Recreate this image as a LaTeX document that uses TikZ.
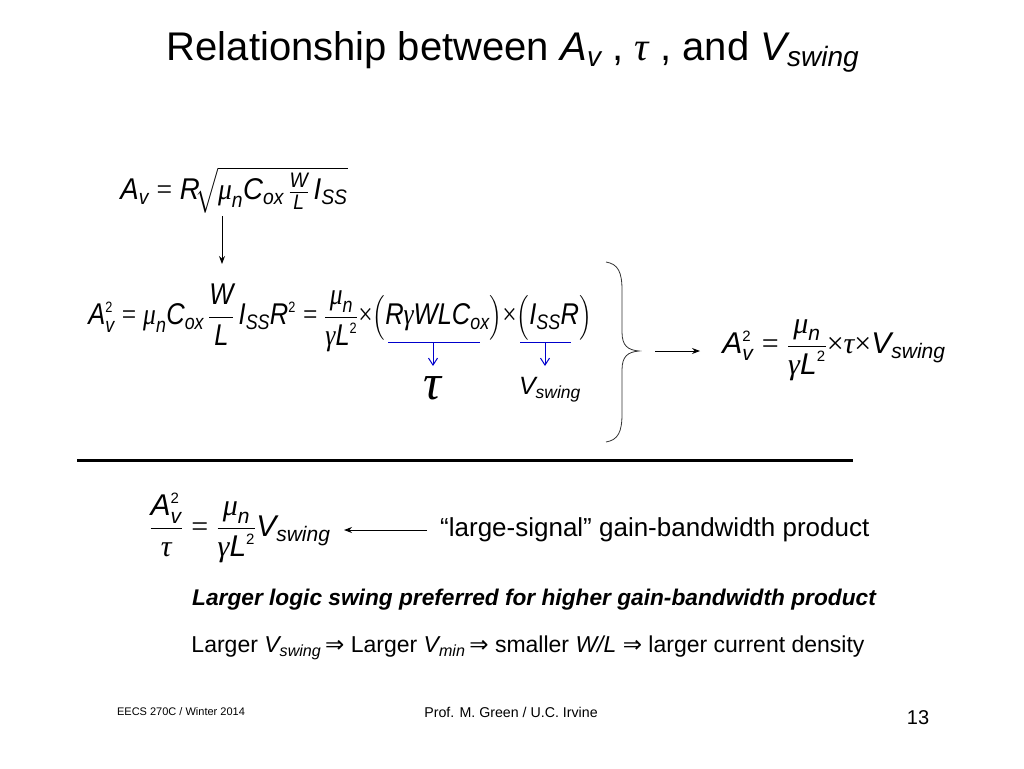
\RequirePackage{fix-cm}
\documentclass[tikz,border=0pt]{standalone}
\usepackage{amsmath}
\usepackage{graphicx}
\usepackage{fontspec}
\setmainfont{Liberation Sans}
\newfontfamily\grk{Liberation Serif}
\newfontfamily\dvs{DejaVu Sans}
\usetikzlibrary{arrows.meta}
\newcommand\gmu{\text{\grk\itshape μ}}
\newcommand\gga{\text{\grk\itshape γ}}
\newcommand\gtau{\text{\grk\itshape τ}}
\newcommand\vi[1]{\text{\itshape #1}}
\newcommand\two{{\scriptscriptstyle\text{2}}}
\newcommand\myeq{\mathrel{\text{\grk =}}}
\newcommand\mytimes{\mathbin{\text{\grk ×}}}
\newcommand\myimp{\text{\dvs ⇒}}
\tikzset{
  eq/.style={inner sep=0pt, font=\fontsize{30}{34}\selectfont},
  txt/.style={inner sep=0pt, font=\fontsize{21}{24}\selectfont},
  conn/.style={-{Stealth[length=8pt,width=6pt]}, line width=1pt},
  bconn/.style={-{Straight Barb[length=7pt,width=9pt]}, line width=1pt, blue!80!black},
}
\begin{document}
\begin{tikzpicture}[x=1pt,y=-1pt]
\useasboundingbox (0,0) rectangle (1024,768);
% title
\node[inner sep=0pt, font=\fontsize{40}{44}\selectfont] (title) at (513,52)
  {Relationship between $\vi{A}_{\vi{v}}$ , $\gtau$ , and $\vi{V}_{\vi{swing}}$};
% eq1
\node[eq] (eq1) at (234,190)
  {\scalebox{0.92}[1]{$\vi{A}_{\vi{v}} \myeq \vi{R}\!\sqrt{\gmu_{\vi{n}}\vi{C}_{\vi{ox}}\,\tfrac{\vi{W}}{\vi{L}}\,\vi{I}_{\vi{SS}}}$}};
\coordinate (a1s) at (222,216);
\coordinate (a1e) at (222,264);
\draw[conn] (a1s) -- (a1e);
% eq2
\node[eq] (eq2) at (340,318)
  {\scalebox{0.85}[1]{$\vi{A}_{\vi{v}}^{\two} \myeq \gmu_{\vi{n}}\vi{C}_{\vi{ox}}\,\dfrac{\vi{W}}{\vi{L}}\,\vi{I}_{\vi{SS}}\vi{R}^{\two} \myeq \dfrac{\gmu_{\vi{n}}}{\gga\vi{L}^{\two}}{\mytimes}\bigl(\vi{R}\gga\vi{WLC}_{\vi{ox}}\bigr){\mytimes}\bigl(\vi{I}_{\vi{SS}}\vi{R}\bigr)$}};
\coordinate (bl1a) at (388,342);
\coordinate (bl1b) at (480,342);
\coordinate (bl2a) at (520,342);
\coordinate (bl2b) at (571,342);
\coordinate (ba1) at (433,342);
\coordinate (ba2) at (545,342);
\draw[blue!80!black, line width=1pt] (bl1a) -- (bl1b);
\draw[blue!80!black, line width=1pt] (bl2a) -- (bl2b);
\node[inner sep=0pt, font=\fontsize{50}{52}\selectfont] (tau) at (432,388) {$\gtau$};
\node[txt, font=\fontsize{25}{27}\selectfont] (vsw) at (550,390) {$\vi{V}_{\vi{swing}}$};
\coordinate (ta) at (433,366);
\coordinate (va) at (545,366);
\draw[bconn] (ba1) -- (ta);
\draw[bconn] (ba2) -- (va);
% brace
\draw[line width=0.8pt, black!80] (606,262) .. controls (618,264) and (622,272) .. (622,290)
  -- (622,332) .. controls (622,346) and (628,350) .. (639,351)
  .. controls (628,352) and (622,356) .. (622,370)
  -- (622,414) .. controls (622,432) and (618,440) .. (606,442);
\coordinate (br) at (655,351);
\coordinate (br2) at (700,351);
% eq3
\node[eq] (eq3) at (834,350)
  {$\vi{A}_{\vi{v}}^{\two} \myeq \dfrac{\gmu_{\vi{n}}}{\gga\vi{L}^{\two}}{\mytimes}\gtau{\mytimes}\vi{V}_{\vi{swing}}$};
\draw[conn] (br) -- (br2);
% rule
\coordinate (r1) at (77,460);
\coordinate (r2) at (853,460);
\draw[line width=3pt] (r1) -- (r2);
% eq4
\node[eq] (eq4) at (240,528)
  {$\dfrac{\vi{A}_{\vi{v}}^{\two}}{\gtau} \myeq \dfrac{\gmu_{\vi{n}}}{\gga\vi{L}^{\two}}\vi{V}_{\vi{swing}}$};
\node[txt, font=\fontsize{26}{28}\selectfont, anchor=west] (lsg) at (440,530) {“large-signal” gain-bandwidth product};
\coordinate (lsa) at (427,530);
\coordinate (lsb) at (344,530);
\draw[conn] (lsa) -- (lsb);
\node[txt, font=\fontsize{22.7}{26}\bfseries\itshape] (bold) at (534,600)
  {Larger logic swing preferred for higher gain-bandwidth product};
\node[txt, font=\fontsize{23}{26}\selectfont] (last) at (528,648)
  {Larger $\vi{V}_{\vi{swing}}\,$\myimp{} Larger $\vi{V}_{\vi{min}}\,$\myimp{} smaller \vi{W/L} \myimp{} larger current density};
% footer
\node[inner sep=0pt, font=\fontsize{11}{12}\selectfont] (f1) at (181,712) {EECS 270C / Winter 2014};
\node[inner sep=0pt, font=\fontsize{14.2}{16}\selectfont] (f2) at (511,712) {Prof. M. Green / U.C. Irvine};
\node[inner sep=0pt, font=\fontsize{20}{22}\selectfont] (f3) at (918,718) {13};
\end{tikzpicture}
\end{document}
